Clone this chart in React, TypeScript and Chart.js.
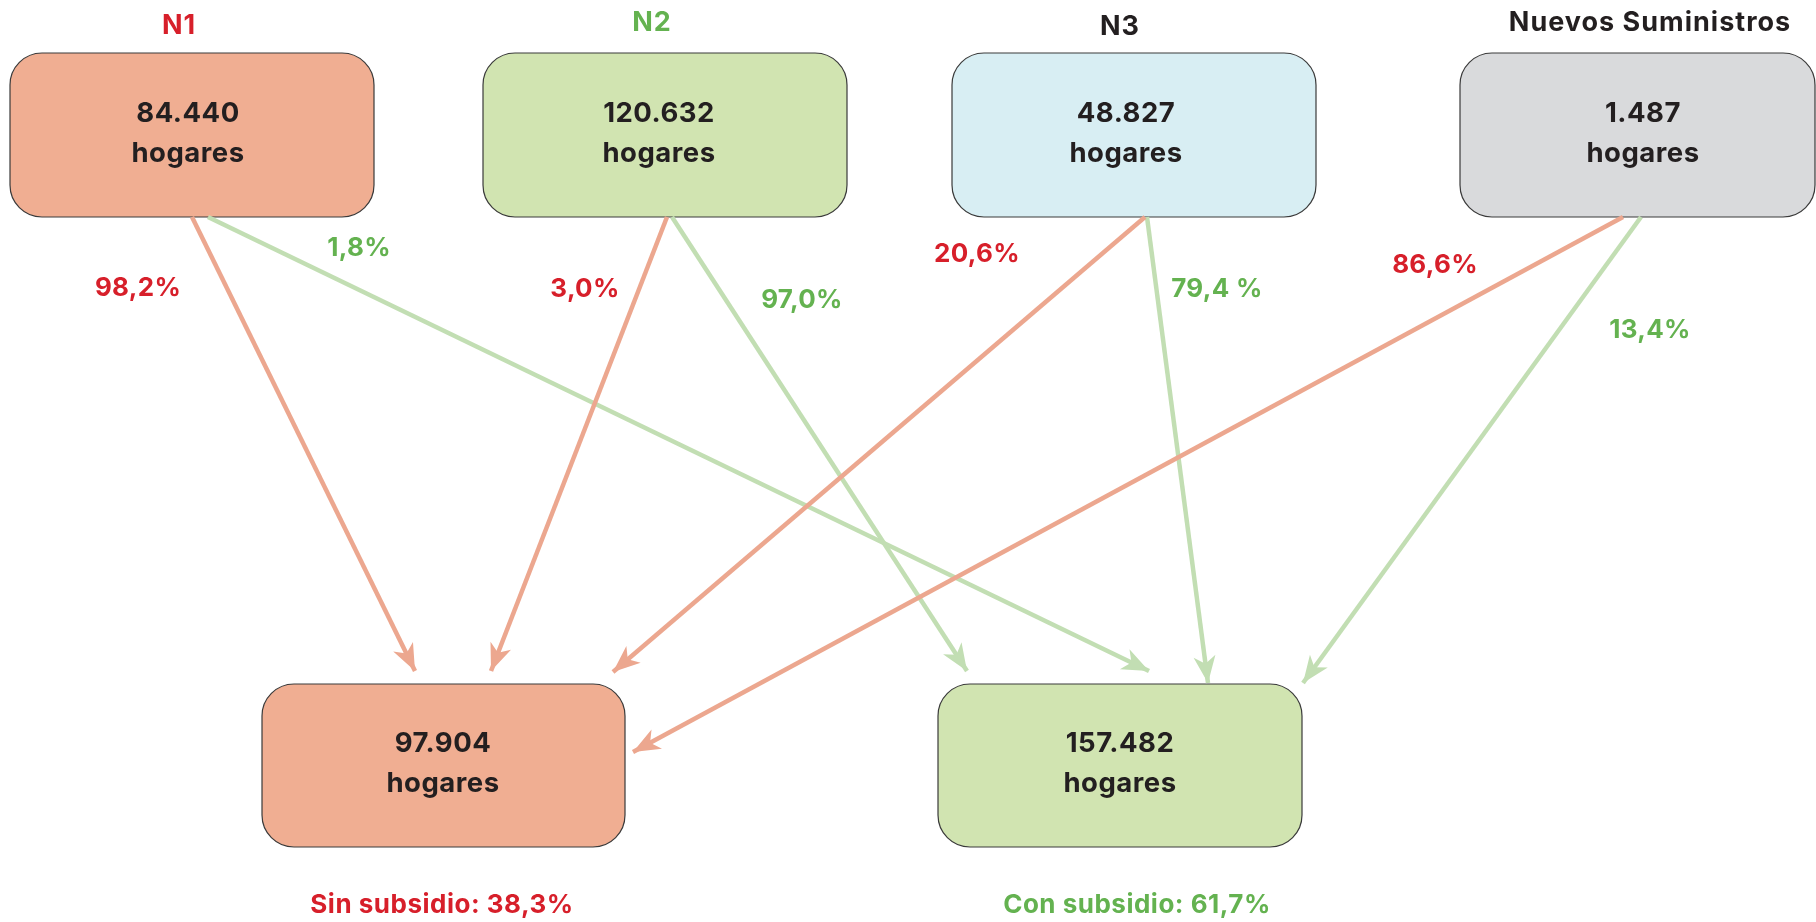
import React, { useEffect, useRef } from "react";
import { Chart, registerables } from "chart.js";
Chart.register(...registerables);

// ---- data ----
const sourceNames = ["N1", "N2", "N3", "Nuevos Suministros"];
const sourceHogares = ["84.440", "120.632", "48.827", "1.487"];
const sinPercents = ["98,2%", "3,0%", "20,6%", "86,6%"];
const conPercents = ["1,8%", "97,0%", "79,4 %", "13,4%"];
const targetHogares = ["97.904", "157.482"];
const targetLabels = ["Sin subsidio: 38,3%", "Con subsidio: 61,7%"];
const unitLabel = "hogares";

// ---- layout (diagram positions in scale units) ----
const W = 1816;
const H = 922;
const sourceBoxes = [
  { x0: 10, y0: 53, x1: 374, y1: 217 },
  { x0: 483, y0: 53, x1: 847, y1: 217 },
  { x0: 952, y0: 53, x1: 1316, y1: 217 },
  { x0: 1460, y0: 53, x1: 1815, y1: 217 },
];
const targetBoxes = [
  { x0: 262, y0: 684, x1: 625, y1: 847 },
  { x0: 938, y0: 684, x1: 1302, y1: 847 },
];
const sourceFills = ["#F0AE92", "#D1E4B1", "#D8EEF3", "#D9DADC"];
const targetFills = ["#F0AE92", "#D1E4B1"];
const nameColors = ["#D71F2A", "#64B250", "#231F20", "#231F20"];
const namePos = [
  { x: 179, y: 26 },
  { x: 652, y: 23 },
  { x: 1120, y: 27 },
  { x: 1650, y: 23 },
];
const textCenters = [188, 659, 1126, 1643];
const targetTextCenters = [443, 1120];
const targetLabelPos = [
  { x: 442, y: 905 },
  { x: 1137, y: 905 },
];
const sinLabelPos = [
  { x: 138, y: 288 },
  { x: 585, y: 289 },
  { x: 977, y: 254 },
  { x: 1435, y: 265 },
];
const conLabelPos = [
  { x: 359, y: 248 },
  { x: 802, y: 300 },
  { x: 1217, y: 289 },
  { x: 1650, y: 330 },
];
const sinFrom = [
  { x: 192, y: 217 },
  { x: 667, y: 217 },
  { x: 1145, y: 217 },
  { x: 1623, y: 217 },
];
const sinTo = [
  { x: 415, y: 671 },
  { x: 491, y: 671 },
  { x: 613, y: 672 },
  { x: 633, y: 752 },
];
const conFrom = [
  { x: 208, y: 217 },
  { x: 672, y: 217 },
  { x: 1147, y: 217 },
  { x: 1641, y: 217 },
];
const conTo = [
  { x: 1149, y: 671 },
  { x: 967, y: 671 },
  { x: 1208, y: 683 },
  { x: 1303, y: 683 },
];

const RED = "#D71F2A";
const GREEN = "#64B250";
const DARK = "#231F20";
const RED_ARROW = "#ECA78F";
const GREEN_ARROW = "#C2DEB3";
const FONT = "Inter, 'Open Sans', sans-serif";

function roundRect(ctx: CanvasRenderingContext2D, x0: number, y0: number, x1: number, y1: number, r: number) {
  ctx.beginPath();
  ctx.moveTo(x0 + r, y0);
  ctx.lineTo(x1 - r, y0);
  ctx.arcTo(x1, y0, x1, y0 + r, r);
  ctx.lineTo(x1, y1 - r);
  ctx.arcTo(x1, y1, x1 - r, y1, r);
  ctx.lineTo(x0 + r, y1);
  ctx.arcTo(x0, y1, x0, y1 - r, r);
  ctx.lineTo(x0, y0 + r);
  ctx.arcTo(x0, y0, x0 + r, y0, r);
  ctx.closePath();
}

const diagramPlugin = {
  id: "diagram",
  beforeDatasetsDraw(chart: any) {
    const ctx = chart.ctx as CanvasRenderingContext2D;
    const xs = chart.scales.x;
    const ys = chart.scales.y;
    const drawBox = (b: any, fill: string) => {
      const x0 = xs.getPixelForValue(b.x0);
      const x1 = xs.getPixelForValue(b.x1);
      const y0 = ys.getPixelForValue(b.y0);
      const y1 = ys.getPixelForValue(b.y1);
      ctx.save();
      roundRect(ctx, x0, y0, x1, y1, 32);
      ctx.fillStyle = fill;
      ctx.fill();
      ctx.lineWidth = 1.2;
      ctx.strokeStyle = "#3a3a3a";
      ctx.stroke();
      ctx.restore();
    };
    sourceBoxes.forEach((b, i) => drawBox(b, sourceFills[i]));
    targetBoxes.forEach((b, i) => drawBox(b, targetFills[i]));
  },
  afterDatasetsDraw(chart: any) {
    const ctx = chart.ctx as CanvasRenderingContext2D;
    const xs = chart.scales.x;
    const ys = chart.scales.y;
    const px = (v: number) => xs.getPixelForValue(v);
    const py = (v: number) => ys.getPixelForValue(v);

    // arrowheads
    chart.data.datasets.forEach((ds: any) => {
      const a = ds.data[0];
      const b = ds.data[1];
      const ax = px(a.x), ay = py(a.y), bx = px(b.x), by = py(b.y);
      const dx = bx - ax, dy = by - ay;
      const len = Math.hypot(dx, dy);
      const ux = dx / len, uy = dy / len;
      const nx = -uy, ny = ux;
      const L = 27, HW = 11;
      ctx.save();
      ctx.fillStyle = ds.borderColor;
      ctx.beginPath();
      ctx.moveTo(bx, by);
      ctx.lineTo(bx - L * ux + HW * nx, by - L * uy + HW * ny);
      ctx.lineTo(bx - 0.72 * L * ux, by - 0.72 * L * uy);
      ctx.lineTo(bx - L * ux - HW * nx, by - L * uy - HW * ny);
      ctx.closePath();
      ctx.fill();
      ctx.restore();
    });

    const text = (s: string, x: number, y: number, color: string, size: number, spacing: number) => {
      ctx.save();
      ctx.font = `700 ${size}px ${FONT}`;
      (ctx as any).letterSpacing = `${spacing}px`;
      ctx.fillStyle = color;
      ctx.textAlign = "center";
      ctx.textBaseline = "middle";
      ctx.fillText(s, px(x), py(y));
      ctx.restore();
    };

    sourceNames.forEach((n, i) => text(n, namePos[i].x, namePos[i].y, nameColors[i], 27, 1));
    sourceHogares.forEach((v, i) => {
      const b = sourceBoxes[i];
      const cy = (b.y0 + b.y1) / 2;
      text(v, textCenters[i], cy - 21, DARK, 27.5, 0.5);
      text(unitLabel, textCenters[i], cy + 19, DARK, 27.5, 0.5);
    });
    targetHogares.forEach((v, i) => {
      const b = targetBoxes[i];
      const cy = (b.y0 + b.y1) / 2;
      text(v, targetTextCenters[i], cy - 22, DARK, 27.5, 0.5);
      text(unitLabel, targetTextCenters[i], cy + 18, DARK, 27.5, 0.5);
    });
    sinPercents.forEach((p, i) => text(p, sinLabelPos[i].x, sinLabelPos[i].y, RED, 26, 0.3));
    conPercents.forEach((p, i) => text(p, conLabelPos[i].x, conLabelPos[i].y, GREEN, 26, 0.3));
    text(targetLabels[0], targetLabelPos[0].x, targetLabelPos[0].y, RED, 26, 0.5);
    text(targetLabels[1], targetLabelPos[1].x, targetLabelPos[1].y, GREEN, 26, 0.5);
  },
};

export default function App() {
  const ref = useRef<HTMLCanvasElement | null>(null);
  useEffect(() => {
    document.body.style.margin = "0";
    const datasets: any[] = [];
    sinPercents.forEach((p, i) =>
      datasets.push({
        label: `${sourceNames[i]} → sin ${p}`,
        data: [sinFrom[i], sinTo[i]],
        borderColor: RED_ARROW,
        backgroundColor: RED_ARROW,
        borderWidth: 4.5,
        showLine: true,
        pointRadius: 0,
      })
    );
    conPercents.forEach((p, i) =>
      datasets.push({
        label: `${sourceNames[i]} → con ${p}`,
        data: [conFrom[i], conTo[i]],
        borderColor: GREEN_ARROW,
        backgroundColor: GREEN_ARROW,
        borderWidth: 4.5,
        showLine: true,
        pointRadius: 0,
      })
    );
    const chart = new Chart(ref.current as HTMLCanvasElement, {
      type: "scatter",
      data: { datasets },
      options: {
        animation: false,
        responsive: true,
        maintainAspectRatio: false,
        layout: { padding: 0 },
        scales: {
          x: { type: "linear", min: 0, max: W, display: false },
          y: { type: "linear", min: 0, max: H, reverse: true, display: false },
        },
        plugins: { legend: { display: false }, tooltip: { enabled: false } },
      },
      plugins: [diagramPlugin],
    });
    return () => chart.destroy();
  }, []);
  return (
    <div style={{ position: "fixed", left: 0, top: 0, width: W, height: H, background: "#fff" }}>
      <canvas ref={ref} />
    </div>
  );
}
